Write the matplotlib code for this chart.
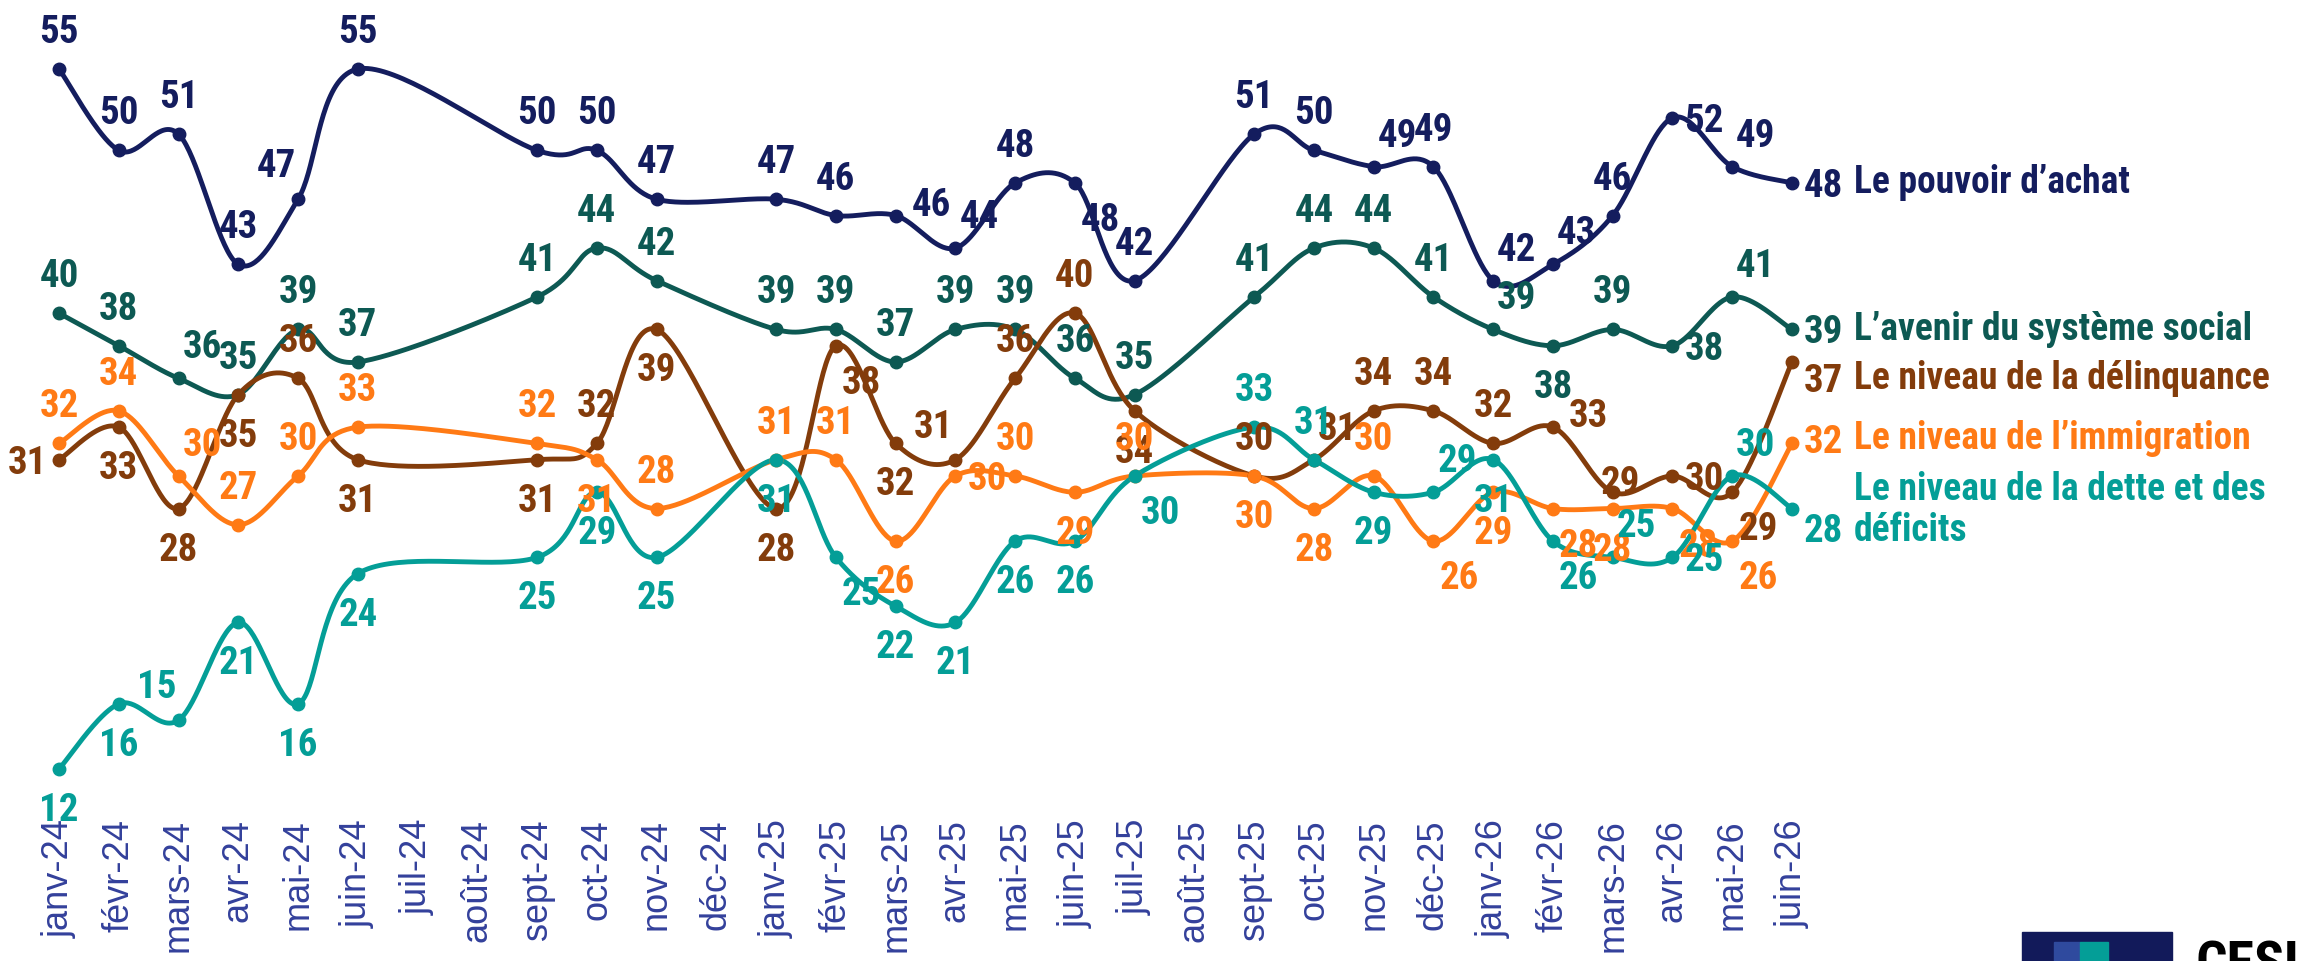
import numpy as np
import matplotlib as mpl
mpl.use('Agg')
import matplotlib.pyplot as plt
from matplotlib import font_manager
from matplotlib.patches import Rectangle

# months on the x axis (some have no survey)
months = ['janv-24', 'févr-24', 'mars-24', 'avr-24', 'mai-24', 'juin-24', 'juil-24', 'août-24',
          'sept-24', 'oct-24', 'nov-24', 'déc-24', 'janv-25', 'févr-25', 'mars-25', 'avr-25',
          'mai-25', 'juin-25', 'juil-25', 'août-25', 'sept-25', 'oct-25', 'nov-25', 'déc-25',
          'janv-26', 'févr-26', 'mars-26', 'avr-26', 'mai-26', 'juin-26']

N = None
pouvoir = [55, 50, 51, 43, 47, 55, N, N, 50, 50, 47, N, 47, 46, 46, 44, 48, 48, 42, N,
           51, 50, 49, 49, 42, 43, 46, 52, 49, 48]
avenir = [40, 38, 36, 35, 39, 37, N, N, 41, 44, 42, N, 39, 39, 37, 39, 39, 36, 35, N,
          41, 44, 44, 41, 39, 38, 39, 38, 41, 39]
delinquance = [31, 33, 28, 35, 36, 31, N, N, 31, 32, 39, N, 28, 38, 32, 31, 36, 40, 34, N,
               30, 31, 34, 34, 32, 33, 29, 30, 29, 37]
immigration = [32, 34, 30, 27, 30, 33, N, N, 32, 31, 28, N, 31, 31, 26, 30, 30, 29, 30, N,
               30, 28, 30, 26, 29, 28, 28, 28, 26, 32]
dette = [12, 16, 15, 21, 16, 24, N, N, 25, 29, 25, N, 31, 25, 22, 21, 26, 26, 30, N,
         33, 31, 29, 29, 31, 26, 25, 25, 30, 28]

names = ["Le pouvoir d\u2019achat", "L\u2019avenir du syst\u00e8me social",
         "Le niveau de la d\u00e9linquance", "Le niveau de l\u2019immigration",
         "Le niveau de la dette et des\nd\u00e9ficits"]
colors = ['#141d5e', '#0d5953', '#833c0b', '#ff7a15', '#049e97']

# where each value label sits relative to its point
pos_pouvoir = 'a a a a al a - - a a a - a a ru ar a br a - a a ar a ar ar a r ar e'.split()
pos_avenir = 'a a ar a a a - - a a a - a a a a a a a - a a a a ar b a r ar e'.split()
pos_delinq = 'l b b b a b - - b a b - b br b al a a b - a ar a a a ru o r br e'.split()
pos_immig = 'a a ar a a a - - a b a - a a b r a b a - b b a br b br b br br e'.split()
pos_dette = 'b b al b b b - - b b b - b br b b b b br - a a b ar b br ar r ar e'.split()

series = [pouvoir, avenir, delinquance, immigration, dette]
positions = [pos_pouvoir, pos_avenir, pos_delinq, pos_immig, pos_dette]
end_value_y = [48, 39, 36, 32.3, 26.8]
end_name_y = [48, 39, 36, 32.3, 27.9]

avail = {f.name for f in font_manager.fontManager.ttflist}
lab_font = next((f for f in ['Liberation Sans Narrow', 'DejaVu Sans Condensed', 'Roboto Condensed']
                 if f in avail), 'Roboto')
tick_font = 'Liberation Sans'


def smooth(xs, ys, n=40):
    # excel-like smoothed line (catmull-rom as bezier)
    px_ = np.concatenate([[xs[0]], xs, [xs[-1]]]).astype(float)
    py_ = np.concatenate([[ys[0]], ys, [ys[-1]]]).astype(float)
    t = np.linspace(0, 1, n)[:, None]
    out = []
    for i in range(1, len(px_) - 2):
        p1 = np.array([px_[i], py_[i]])
        p2 = np.array([px_[i + 1], py_[i + 1]])
        p0 = np.array([px_[i - 1], py_[i - 1]])
        p3 = np.array([px_[i + 2], py_[i + 2]])
        c1 = p1 + (p2 - p0) / 6
        c2 = p2 - (p3 - p1) / 6
        seg = (1 - t) ** 3 * p1 + 3 * (1 - t) ** 2 * t * c1 + 3 * (1 - t) * t ** 2 * c2 + t ** 3 * p2
        out.append(seg if i == 1 else seg[1:])
    out = np.vstack(out)
    return out[:, 0], out[:, 1]


def pt(v):
    return v * 0.72  # pixels -> points at dpi 100


offsets = {
    'a': (0, 26, 'center'),
    'b': (0, -52, 'center'),
    'r': (12, -14, 'left'),
    'l': (-12, -14, 'right'),
    'ar': (4, 20, 'left'),
    'al': (-2, 22, 'right'),
    'br': (6, -48, 'left'),
    'bl': (-6, -48, 'right'),
    'ru': (16, 0, 'left'),
    'o': (8, -2, 'center'),
}

W, H = 2313, 961
x0, x1 = 59, 1792
ytop, ybot = 69, 769

fig = plt.figure(figsize=(W / 100, H / 100), dpi=100)
ax = fig.add_axes([x0 / W, 1 - ybot / H, (x1 - x0) / W, (ybot - ytop) / H])
ax.set_xlim(0, len(months) - 1)
ax.set_ylim(12, 55)
for s in ax.spines.values():
    s.set_visible(False)
ax.set_yticks([])
ax.set_xticks(range(len(months)))
ax.set_xticklabels(months, rotation=90, fontsize=26, color='#33409b', family=tick_font)
ax.tick_params(axis='x', length=0, pad=36)

for vals, col in zip(series, colors):
    xs = np.array([i for i, v in enumerate(vals) if v is not None])
    ys = np.array([v for v in vals if v is not None])
    sx, sy = smooth(xs, ys)
    ax.plot(sx, sy, color=col, lw=3.5, solid_capstyle='round', clip_on=False, zorder=2)
    ax.plot(xs, ys, 'o', color=col, ms=9, clip_on=False, zorder=3)

for k, (vals, pos, col) in enumerate(zip(series, positions, colors)):
    for i, v in enumerate(vals):
        if v is None:
            continue
        if pos[i] == 'e':
            ax.annotate(str(v), (i, end_value_y[k]), xytext=(pt(12), pt(-14)),
                        textcoords='offset points', ha='left', va='baseline',
                        fontsize=28, fontweight='bold', family=[lab_font, 'DejaVu Sans'],
                        color=col, annotation_clip=False, zorder=5)
            ax.annotate(names[k], (i, end_name_y[k]), xytext=(pt(62), 0),
                        textcoords='offset points', ha='left', va='center',
                        fontsize=27, fontweight='bold', family=[lab_font, 'DejaVu Sans'],
                        color=col, annotation_clip=False, linespacing=1.15, zorder=5)
            continue
        dx, dy, ha = offsets[pos[i]]
        ax.annotate(str(v), (i, v), xytext=(pt(dx), pt(dy)), textcoords='offset points',
                    ha=ha, va='baseline', fontsize=28, fontweight='bold',
                    family=[lab_font, 'DejaVu Sans'], color=col,
                    annotation_clip=False, zorder=5)

# logo corner (cut off at the bottom of the image)
fig.patches.append(Rectangle((2022 / W, 0), 150 / W, 29 / H, transform=fig.transFigure,
                             color='#121a5a', zorder=1))
fig.patches.append(Rectangle((2054 / W, 0), 26 / W, 19 / H, transform=fig.transFigure,
                             color='#2f4a9e', zorder=2))
fig.patches.append(Rectangle((2080 / W, 0), 28 / W, 19 / H, transform=fig.transFigure,
                             color='#049e97', zorder=2))
fig.text(2195 / W, 1 - 940 / H, 'CESI', ha='left', va='top', fontsize=40,
         fontweight='bold', family=[lab_font, 'DejaVu Sans'], color='black')

fig.savefig('out.png', dpi=100, facecolor='white')
